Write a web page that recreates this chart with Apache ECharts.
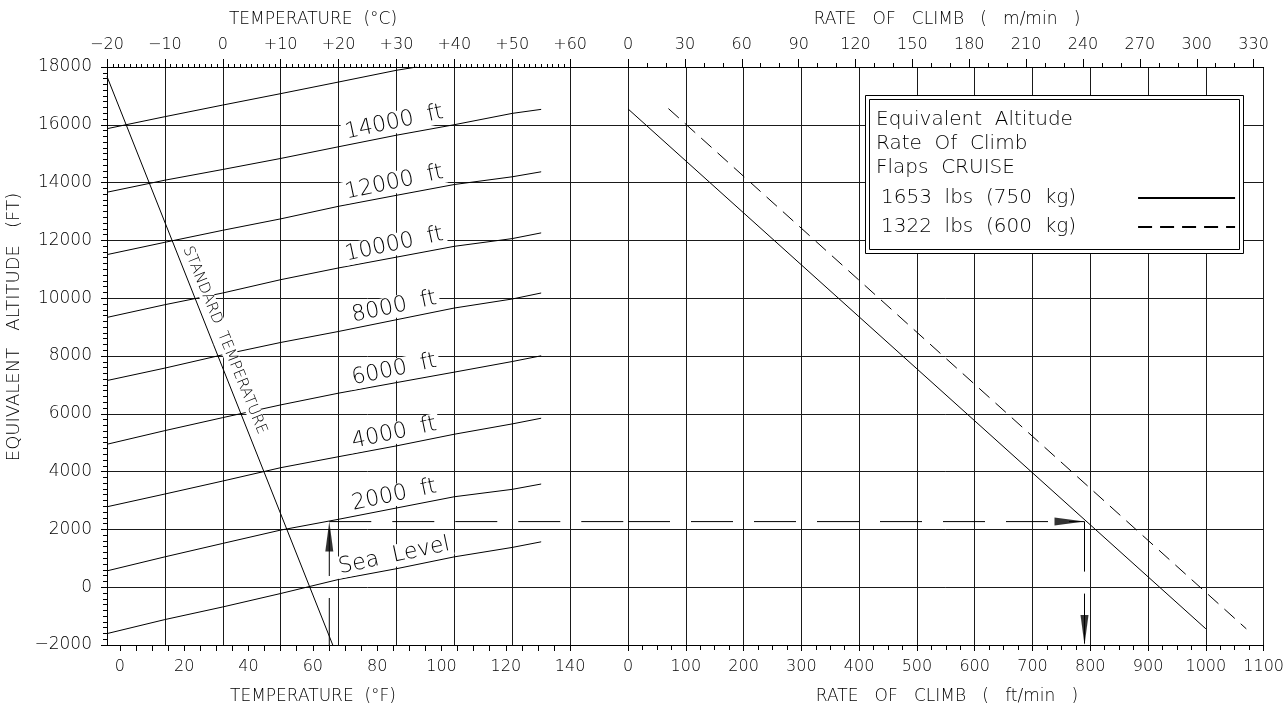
<!DOCTYPE html>
<html>
<head>
<meta charset="utf-8">
<script src="https://cdn.jsdelivr.net/npm/echarts@6/dist/echarts.min.js"></script>
<style>
html,body{margin:0;padding:0;background:#fff;}
#chart{width:1287px;height:711px;}
</style>
</head>
<body>
<div id="chart"></div>
<script>
// ---------- DATA ----------
// Left panel: equivalent altitude (ft) vs outside air temperature (deg C), one curve per pressure altitude
const tempC = [-20, -10, 0, 10, 20, 30, 40, 50, 55];
const altSeaLevel = [-1605, -1120, -683, -218, 267, 640, 1050, 1376, 1570];
const alt2000 = [565, 1050, 1515, 1976, 2350, 2740, 3130, 3386, 3570];
const alt4000 = [2783, 3224, 3674, 4135, 4516, 4890, 5293, 5650, 5847];
const alt6000 = [4946, 5418, 5868, 6308, 6714, 7080, 7442, 7809, 8007];
const alt8000 = [7151, 7581, 8042, 8468, 8849, 9255, 9660, 9972, 10180];
const alt10000 = [9335, 9775, 10180, 10641, 11047, 11420, 11795, 12062, 12260];
const alt12000 = [11508, 11934, 12350, 12745, 13180, 13560, 13934, 14201, 14374];
const alt14000 = [13667, 14083, 14454, 14835, 15240, 15640, 16003, 16395, 16534];
const tempC16000 = [-20, -10, 0, 10, 20, 30, 33.5];
const alt16000 = [15865, 16281, 16683, 17078, 17480, 17886, 18000];
const curveLabels = ['Sea  Level', '2000  ft', '4000  ft', '6000  ft', '8000  ft', '10000  ft', '12000  ft', '14000  ft'];

// Standard temperature line
const stdTempC = [-20, -1.6, 19];
const stdAlt = [17670, 8390, -2000];

// Right panel: rate of climb (ft/min) vs equivalent altitude (ft)
const rocHeavy = [0, 1000];
const altHeavy = [16550, -1440];
const rocLight = [70, 1070];
const altLight = [16560, -1440];
const heavyName = '1653  lbs  (750  kg)';
const lightName = '1322  lbs  (600  kg)';

// Worked example
const exTempC = 18.4;
const exAlt = 2270;
const exRoc = 790;
const exBottomAlt = -2000;

// Tick labels
const tempFLabels = [0, 20, 40, 60, 80, 100, 120, 140];
const tempFTicks = []; for (let v = 0; v <= 140; v += 5) tempFTicks.push(v);
const rocMLabels = [0, 30, 60, 90, 120, 150, 180, 210, 240, 270, 300, 330];
const rocMMinor = []; for (let v = 0; v <= 330; v += 10) if (v % 30) rocMMinor.push(v);
const tempCMinor = []; for (let v = -20; v < 60; v++) if (v % 10) tempCMinor.push(v);

// ---------- CHART ----------
const FONT = '"DejaVu Sans", "Noto Sans", sans-serif';
const W = 200;
const chart = echarts.init(document.getElementById('chart'), null, {renderer: 'canvas'});

const gridLine = {show: true, lineStyle: {color: '#1a1a1a', width: 1}};
const axLine = {show: true, onZero: false, lineStyle: {color: '#000', width: 1}};
const noLine = {show: false, onZero: false};
const lblStyle = {color: '#000', fontFamily: FONT, fontWeight: W, fontSize: 16};

function pairs(xs, ys) { return xs.map((x, i) => [x, ys[i]]); }

function curveSeries(ys, labelText, xs) {
  xs = xs || tempC;
  return {
    type: 'line', xAxisIndex: 0, yAxisIndex: 0,
    symbol: 'circle', symbolSize: 0, showSymbol: true, showAllSymbol: true,
    lineStyle: {color: '#000', width: 1}, itemStyle: {color: '#000'},
    emphasis: {disabled: true}, silent: true,
    data: xs.map((x, i) => {
      if (labelText && i === 5) {
        return {value: [x, ys[i]], label: {
          show: true, formatter: labelText, position: 'top', distance: 2, rotate: 12,
          color: '#000', fontFamily: FONT, fontWeight: W, fontSize: 22,
          backgroundColor: '#fff', padding: [0, 3, 0, 3]
        }};
      }
      return [x, ys[i]];
    })
  };
}

const tempLabelFmt = v => v > 60 ? '' : (v > 0 ? '+' + v : (v < 0 ? '\u2212' + (-v) : '0'));
const plainFmt = v => '' + v;

const titleFont = '200 17px ' + FONT;

const option = {
  animation: false,
  backgroundColor: '#fff',
  textStyle: {fontFamily: FONT},
  grid: [
    {left: 107, top: 67, width: 521, height: 578, containLabel: false},
    {left: 628, top: 67, width: 636, height: 578, containLabel: false}
  ],
  xAxis: [
    { // 0: deg C (top, left panel)
      type: 'value', gridIndex: 0, position: 'top', min: -20, max: 70, interval: 10,
      axisLine: axLine, axisTick: {show: true, length: 8, lineStyle: {color: '#000'}},
      axisLabel: Object.assign({margin: 14, formatter: tempLabelFmt}, lblStyle),
      splitLine: gridLine
    },
    { // 1: deg F (bottom, left panel)
      type: 'value', gridIndex: 0, position: 'bottom', min: -4, max: 158,
      axisLine: axLine,
      axisTick: {show: true, length: 6, customValues: tempFTicks, lineStyle: {color: '#000'}},
      axisLabel: Object.assign({margin: 14, customValues: tempFLabels, formatter: plainFmt}, lblStyle),
      splitLine: {show: false}
    },
    { // 2: deg C minor ticks (top)
      type: 'value', gridIndex: 0, position: 'top', min: -20, max: 70,
      axisLine: noLine,
      axisTick: {show: true, length: 3, customValues: tempCMinor, lineStyle: {color: '#000'}},
      axisLabel: {show: false}, splitLine: {show: false}
    },
    { // 3: ft/min (bottom, right panel)
      type: 'value', gridIndex: 1, position: 'bottom', min: 0, max: 1100, interval: 100,
      axisLine: axLine, axisTick: {show: true, length: 6, lineStyle: {color: '#000'}},
      minorTick: {show: true, splitNumber: 4, length: 5, lineStyle: {color: '#000'}},
      axisLabel: Object.assign({margin: 14, formatter: plainFmt}, lblStyle),
      splitLine: gridLine
    },
    { // 4: m/min (top, right panel)
      type: 'value', gridIndex: 1, position: 'top', min: 0, max: 1100 * 0.3048,
      axisLine: axLine,
      axisTick: {show: true, length: 8, customValues: rocMLabels, lineStyle: {color: '#000'}},
      axisLabel: Object.assign({margin: 14, customValues: rocMLabels, formatter: plainFmt}, lblStyle),
      splitLine: {show: false}
    },
    { // 5: m/min minor ticks
      type: 'value', gridIndex: 1, position: 'top', min: 0, max: 1100 * 0.3048,
      axisLine: noLine,
      axisTick: {show: true, length: 4, customValues: rocMMinor, lineStyle: {color: '#000'}},
      axisLabel: {show: false}, splitLine: {show: false}
    }
  ],
  yAxis: [
    {
      type: 'value', gridIndex: 0, position: 'left', min: -2000, max: 18000, interval: 2000,
      axisLine: axLine, axisTick: {show: true, length: 6, lineStyle: {color: '#000'}},
      minorTick: {show: true, splitNumber: 10, length: 4, lineStyle: {color: '#000'}},
      axisLabel: Object.assign({margin: 15, formatter: v => v < 0 ? '\u2212' + (-v) : '' + v}, lblStyle, {fontSize: 17}),
      splitLine: gridLine
    },
    {
      type: 'value', gridIndex: 1, position: 'left', min: -2000, max: 18000, interval: 2000,
      axisLine: noLine, axisTick: {show: false}, axisLabel: {show: false},
      splitLine: gridLine
    }
  ],
  legend: {
    show: true, orient: 'vertical', left: 876, top: 183, align: 'right',
    itemWidth: 97, itemHeight: 18, itemGap: 9, selectedMode: false, z: 100,
    itemStyle: {opacity: 0},
    data: [heavyName, lightName],
    formatter: name => '{t|' + name + '}',
    textStyle: {color: '#000', fontFamily: FONT, fontWeight: W, fontSize: 20,
      rich: {t: {color: '#000', fontFamily: FONT, fontWeight: W, fontSize: 20, padding: [0, 57, 0, 0]}}}
  },
  graphic: [
    {type: 'rect', z: 50, shape: {x: 865.5, y: 95.5, width: 378, height: 158}, style: {fill: '#fff', stroke: '#000', lineWidth: 1}},
    {type: 'rect', z: 51, shape: {x: 869.5, y: 99.5, width: 370, height: 150}, style: {fill: 'none', stroke: '#000', lineWidth: 1}},
    {type: 'text', z: 52, x: 876, y: 120, style: {text: 'Equivalent  Altitude', fill: '#000', font: '200 20px ' + FONT, textVerticalAlign: 'middle'}},
    {type: 'text', z: 52, x: 876, y: 144, style: {text: 'Rate  Of  Climb', fill: '#000', font: '200 20px ' + FONT, textVerticalAlign: 'middle'}},
    {type: 'text', z: 52, x: 876, y: 168, style: {text: 'Flaps  CRUISE', fill: '#000', font: '200 20px ' + FONT, textVerticalAlign: 'middle'}},
    {type: 'text', z: 52, x: 313, y: 20, style: {text: 'TEMPERATURE  (°C)', fill: '#000', font: titleFont, textAlign: 'center', textVerticalAlign: 'middle'}},
    {type: 'text', z: 52, x: 313, y: 697, style: {text: 'TEMPERATURE  (°F)', fill: '#000', font: titleFont, textAlign: 'center', textVerticalAlign: 'middle'}},
    {type: 'text', z: 52, x: 947, y: 20, style: {text: 'RATE   OF   CLIMB   (   m/min   )', fill: '#000', font: titleFont, textAlign: 'center', textVerticalAlign: 'middle'}},
    {type: 'text', z: 52, x: 947, y: 697, style: {text: 'RATE   OF   CLIMB   (   ft/min   )', fill: '#000', font: titleFont, textAlign: 'center', textVerticalAlign: 'middle'}},
    {type: 'text', z: 52, x: 14, y: 327, rotation: Math.PI / 2, style: {text: 'EQUIVALENT   ALTITUDE   (FT)', fill: '#000', font: '200 18px ' + FONT, textAlign: 'center', textVerticalAlign: 'middle'}}
  ],
  series: [
    curveSeries(altSeaLevel, curveLabels[0]),
    curveSeries(alt2000, curveLabels[1]),
    curveSeries(alt4000, curveLabels[2]),
    curveSeries(alt6000, curveLabels[3]),
    curveSeries(alt8000, curveLabels[4]),
    curveSeries(alt10000, curveLabels[5]),
    curveSeries(alt12000, curveLabels[6]),
    curveSeries(alt14000, curveLabels[7]),
    curveSeries(alt16000, null, tempC16000),
    { // standard temperature
      type: 'line', xAxisIndex: 0, yAxisIndex: 0, symbol: 'circle', symbolSize: 0, showSymbol: true,
      lineStyle: {color: '#000', width: 1}, itemStyle: {color: '#000'}, emphasis: {disabled: true}, silent: true,
      data: stdTempC.map((x, i) => i === 1 ? {value: [x, stdAlt[i]], label: {
        show: true, formatter: 'STANDARD  TEMPERATURE', position: 'inside', rotate: -68, offset: [0, -12],
        color: '#000', fontFamily: FONT, fontWeight: W, fontSize: 15, backgroundColor: '#fff', padding: [0, 2]
      }} : [x, stdAlt[i]])
    },
    { // example: vertical up (left panel)
      type: 'line', xAxisIndex: 0, yAxisIndex: 0, symbol: 'none', silent: true,
      lineStyle: {color: '#000', width: 1, type: [47, 22]},
      data: [[exTempC, exBottomAlt], [exTempC, exAlt]]
    },
    { // example: horizontal (left panel part)
      type: 'line', xAxisIndex: 0, yAxisIndex: 0, symbol: 'none', silent: true,
      lineStyle: {color: '#000', width: 1, type: [42, 21]},
      data: [[exTempC, exAlt], [70, exAlt]]
    },
    { // arrow up
      type: 'scatter', xAxisIndex: 0, yAxisIndex: 0, symbol: 'triangle', symbolSize: [8, 30],
      symbolOffset: [0, 15], itemStyle: {color: '#000'}, silent: true,
      data: [[exTempC, exAlt]]
    },
    {
      name: heavyName, type: 'line', xAxisIndex: 3, yAxisIndex: 1, symbol: 'none', silent: true,
      lineStyle: {color: '#000', width: 1, type: 'solid'}, itemStyle: {color: '#000'},
      data: pairs(rocHeavy, altHeavy)
    },
    {
      name: lightName, type: 'line', xAxisIndex: 3, yAxisIndex: 1, symbol: 'none', silent: true,
      lineStyle: {color: '#000', width: 1, type: [14, 8]}, itemStyle: {color: '#000'},
      data: pairs(rocLight, altLight)
    },
    { // example horizontal (right panel part)
      type: 'line', xAxisIndex: 3, yAxisIndex: 1, symbol: 'none', silent: true,
      lineStyle: {color: '#000', width: 1, type: [42, 21]},
      data: [[0, exAlt], [exRoc, exAlt]]
    },
    { // example vertical down
      type: 'line', xAxisIndex: 3, yAxisIndex: 1, symbol: 'none', silent: true,
      lineStyle: {color: '#000', width: 1, type: [50, 22]},
      data: [[exRoc, exAlt], [exRoc, exBottomAlt]]
    },
    { // arrows right / down
      type: 'scatter', xAxisIndex: 3, yAxisIndex: 1, symbol: 'triangle', silent: true,
      itemStyle: {color: '#000'},
      data: [
        {value: [exRoc, exAlt], symbolSize: [8, 30], symbolRotate: -90, symbolOffset: [-15, 0]},
        {value: [exRoc, exBottomAlt], symbolSize: [8, 30], symbolRotate: 180, symbolOffset: [0, -15]}
      ]
    }
  ]
};
chart.setOption(option);
</script>
</body>
</html>
